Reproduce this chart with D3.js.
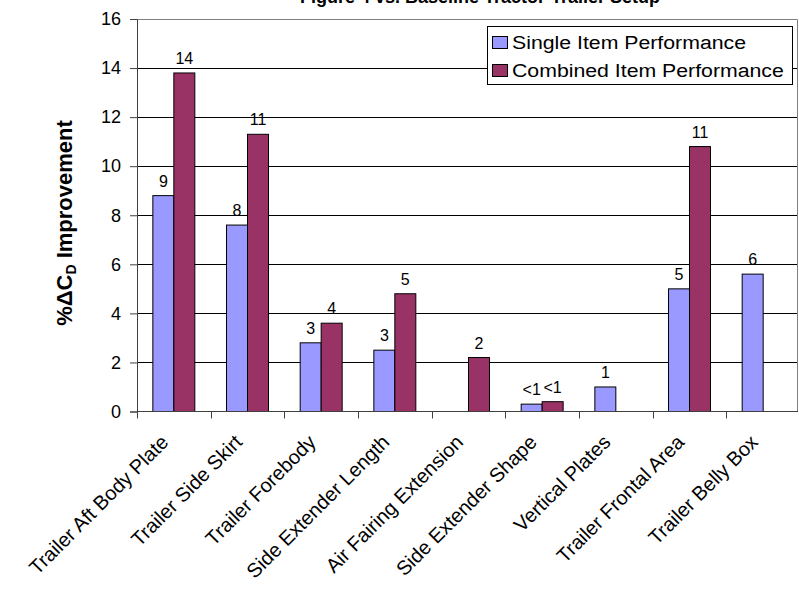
<!DOCTYPE html>
<html>
<head>
<meta charset="utf-8">
<script src="https://cdn.jsdelivr.net/npm/d3@7"></script>
<style>
  html, body { margin: 0; padding: 0; background: #fff; }
  svg { display: block; font-family: Arial, "Liberation Sans", sans-serif; }
</style>
</head>
<body>
<svg id="chart" width="799" height="590"></svg>
<script>
// Drag-reduction items tested on the tractor-trailer model
const categories = [
  "Trailer Aft Body Plate", "Trailer Side Skirt", "Trailer Forebody",
  "Side Extender Length", "Air Fairing Extension", "Side Extender Shape",
  "Vertical Plates", "Trailer Frontal Area", "Trailer Belly Box"
];
const seriesNames = ["Single Item Performance", "Combined Item Performance"];
const singleItem   = [8.8, 7.6, 2.8, 2.5, null, 0.3, 1.0, 5.0, 5.6];
const combinedItem = [13.8, 11.3, 3.6, 4.8, 2.2, 0.4, null, 10.8, null];
const seriesColors = ["#9999FF", "#993366"];
const yTicks = [0, 2, 4, 6, 8, 10, 12, 14, 16];
const chartTitle = "Figure 4 vs. Baseline Tractor-Trailer Setup";

const svg = d3.select("#chart");
const plotLeft = 137, plotRight = 800, plotTop = 19, plotBottom = 411.5;

const x = d3.scaleBand().domain(categories).range([plotLeft, plotRight]).paddingInner(0).paddingOuter(0);
const xs = d3.scaleBand().domain(seriesNames).range([0, x.bandwidth()]).paddingInner(0).paddingOuter(0.755);
const y = d3.scaleLinear().domain([0, 16]).range([plotBottom, plotTop]);

// Title (runs off the top edge of the page)
svg.append("text")
  .attr("x", 480).attr("y", 3)
  .attr("text-anchor", "middle")
  .attr("font-size", 18).attr("font-weight", "bold")
  .text(chartTitle);

// Horizontal gridlines
svg.append("g").selectAll("line")
  .data(yTicks.filter(t => t > 0 && t < 16))
  .join("line")
  .attr("x1", plotLeft).attr("x2", 798)
  .attr("y1", d => Math.round(y(d)) + 0.5).attr("y2", d => Math.round(y(d)) + 0.5)
  .attr("stroke", "#000").attr("stroke-width", 1);

// Plot area frame (top and right)
svg.append("path")
  .attr("d", `M${plotLeft},${Math.round(y(16)) + 0.5}H797.5V${plotBottom}`)
  .attr("fill", "none").attr("stroke", "#808080").attr("stroke-width", 1);

// Bars
const rows = categories.map((c, i) => ({ cat: c, vals: [singleItem[i], combinedItem[i]] }));
const groups = svg.append("g").selectAll("g")
  .data(rows).join("g")
  .attr("transform", d => `translate(${x(d.cat)},0)`);

groups.selectAll("rect")
  .data(d => d.vals.map((v, k) => ({ v, k })).filter(e => e.v != null))
  .join("rect")
  .attr("x", e => xs(seriesNames[e.k]))
  .attr("width", xs.bandwidth())
  .attr("y", e => y(e.v))
  .attr("height", e => y(0) - y(e.v))
  .attr("fill", e => seriesColors[e.k])
  .attr("stroke", "#000").attr("stroke-width", 1);

// Value labels
groups.selectAll("text")
  .data(d => d.vals.map((v, k) => ({ v, k })).filter(e => e.v != null))
  .join("text")
  .attr("x", e => xs(seriesNames[e.k]) + xs.bandwidth() / 2)
  .attr("y", e => y(e.v) - 9)
  .attr("text-anchor", "middle")
  .attr("font-size", 16)
  .attr("fill", "#000")
  .text(e => e.v < 1 ? "<1" : String(Math.round(e.v)));

// Y axis
const yAxis = svg.append("g")
  .attr("transform", `translate(${plotLeft},0)`)
  .call(d3.axisLeft(y).tickValues(yTicks).tickSize(7).tickPadding(9).tickFormat(d3.format("d")));
yAxis.select(".domain").attr("stroke", "#404040");
yAxis.selectAll(".tick line").attr("stroke", "#404040");
yAxis.selectAll(".tick text").attr("font-size", 18).attr("fill", "#000")
  .attr("font-family", "Arial, 'Liberation Sans', sans-serif");

// X axis with ticks at category boundaries
const xAxisG = svg.append("g").attr("transform", `translate(0,${plotBottom})`);
xAxisG.append("line").attr("x1", plotLeft).attr("x2", 798).attr("y1", 0).attr("y2", 0)
  .attr("stroke", "#404040");
const bounds = categories.map(c => x(c)).concat([x(categories[categories.length - 1]) + x.bandwidth()]);
xAxisG.selectAll("line.tk").data(bounds).join("line")
  .attr("class", "tk")
  .attr("x1", d => Math.round(d) + 0.5).attr("x2", d => Math.round(d) + 0.5)
  .attr("y1", 0).attr("y2", 7)
  .attr("stroke", "#404040");
xAxisG.selectAll("text").data(categories).join("text")
  .attr("transform", d => `translate(${x(d) + x.bandwidth() / 2 - 14},${22}) rotate(-45)`)
  .attr("text-anchor", "end")
  .attr("dy", "0.7em")
  .attr("font-size", 20)
  .text(d => d);

// Y axis title
const yt = svg.append("text")
  .attr("transform", `translate(72,223) rotate(-90)`)
  .attr("text-anchor", "middle")
  .attr("font-size", 22).attr("font-weight", "bold");
yt.append("tspan").text("%ΔC");
yt.append("tspan").attr("font-size", 14).attr("dy", 4).text("D");
yt.append("tspan").attr("dy", -4).text(" Improvement");

// Legend
const lg = svg.append("g").attr("transform", "translate(487,26)");
lg.append("rect").attr("x", 0.5).attr("y", 0.5).attr("width", 305).attr("height", 58)
  .attr("fill", "#fff").attr("stroke", "#000");
seriesNames.forEach((s, i) => {
  lg.append("rect").attr("x", 5.5).attr("y", 10.5 + i * 28).attr("width", 15).attr("height", 12)
    .attr("fill", seriesColors[i]).attr("stroke", "#000");
  lg.append("text")
    .attr("transform", `translate(25,${22.5 + i * 28}) scale(1.12,1)`)
    .attr("font-size", 19).text(s);
});
</script>
</body>
</html>
